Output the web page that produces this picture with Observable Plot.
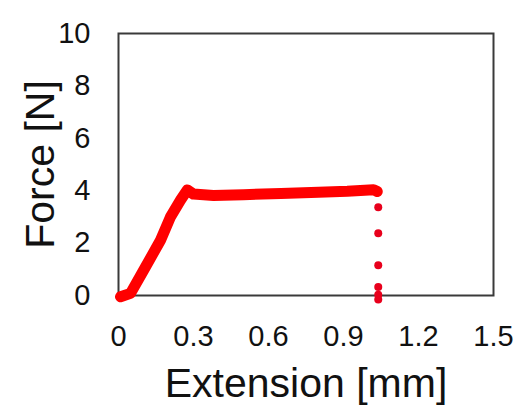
<!DOCTYPE html>
<html>
<head>
<meta charset="utf-8">
<script src="https://cdn.jsdelivr.net/npm/d3@7"></script>
<script src="https://cdn.jsdelivr.net/npm/@observablehq/plot@0.6"></script>
<style>
  html, body { margin: 0; padding: 0; background: #fff; }
  #chart svg { display: block; }
</style>
</head>
<body>
<div id="chart"></div>
<script>
// Continuous loading curve
const extension = [0.008, 0.048, 0.101, 0.168, 0.208, 0.248, 0.275, 0.3, 0.38, 0.5, 0.65, 0.8, 0.915, 1.02, 1.035];
const force     = [-0.05, 0.08, 0.97, 2.11, 3.0, 3.64, 4.03, 3.87, 3.82, 3.85, 3.89, 3.94, 3.98, 4.04, 3.97];
// Drop after break (sparse markers)
const dropExtension = [1.039, 1.039, 1.039, 1.039, 1.039, 1.039];
const dropForce     = [3.37, 2.38, 1.15, 0.32, 0.03, -0.15];
// Axis ticks
const xTicks = [0, 0.3, 0.6, 0.9, 1.2, 1.5];
const yTicks = [0, 2, 4, 6, 8, 10];
const xTickLabels = ["0", "0.3", "0.6", "0.9", "1.2", "1.5"];
const xLabel = "Extension [mm]";
const yLabel = "Force [N]";

const curve = extension.map((x, i) => ({x, y: force[i]}));
const drop = dropExtension.map((x, i) => ({x, y: dropForce[i]}));

const chart = Plot.plot({
  width: 519,
  height: 407,
  marginLeft: 118,
  marginRight: 26,
  marginTop: 33,
  marginBottom: 112,
  style: {fontFamily: "'Liberation Sans', Arial, sans-serif", color: "#111", background: "#fff"},
  x: {domain: [0, 1.5]},
  y: {domain: [0, 10]},
  marks: [
    Plot.axisX({ticks: xTicks, tickFormat: (d, i) => xTickLabels[i], tickSize: 0, tickPadding: 30, fontSize: 29, label: null}),
    Plot.axisY({ticks: yTicks, tickSize: 0, tickPadding: 28, fontSize: 29, label: null}),
    Plot.frame({stroke: "#3a3a3a", strokeWidth: 2}),
    Plot.line(curve, {x: "x", y: "y", stroke: "#f00", strokeWidth: 11, strokeLinecap: "round", strokeLinejoin: "round"}),
    Plot.dot(drop, {x: "x", y: "y", r: 4, fill: "#e8001c", stroke: "none"}),
    Plot.text([xLabel], {frameAnchor: "bottom", dy: 101, lineAnchor: "bottom", fontSize: 41, fill: "#111"}),
    Plot.text([yLabel], {frameAnchor: "left", textAnchor: "middle", dx: -65, rotate: -90, lineAnchor: "bottom", fontSize: 41, fill: "#111"})
  ]
});
document.getElementById("chart").appendChild(chart);
</script>
</body>
</html>
